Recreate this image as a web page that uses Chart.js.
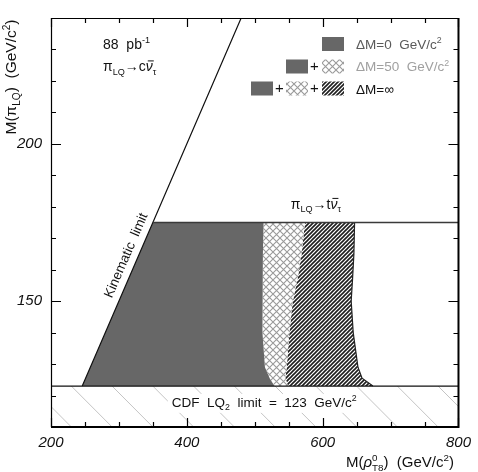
<!DOCTYPE html>
<html>
<head>
<meta charset="utf-8">
<script src="https://cdn.jsdelivr.net/npm/chart.js@4.4.0/dist/chart.umd.min.js"></script>
<style>
  html, body { margin: 0; padding: 0; background: #fff; }
</style>
</head>
<body>
<canvas id="chart" width="478" height="472"></canvas>
<script>
// axes (GeV/c^2)
const xRange = [200, 800]
const yRange = [110, 240]
const xTickValues = [200, 250, 300, 350, 400, 450, 500, 550, 600, 650, 700, 750, 800]
const yTickValues = [110, 120, 130, 140, 150, 160, 170, 180, 190, 200, 210, 220, 230, 240]
const xLabelTicks = [200, 400, 600, 800]
const yLabelTicks = [150, 200]

// CDF LQ2 limit and the t nu threshold
const lq2Limit = 123
const topThreshold = 175

// kinematic limit, M(rho) = 2 M(pi)
const kinematicM = [246, 350, 480]
const kinematicPi = [123, 175, 240]

// right edges of the excluded regions, read at these M(pi_LQ) values
const edgePi = [175, 165, 157, 150, 140, 129, 125.5, 123]
const edgeDM0 = [513, 512, 511, 511, 512, 515, 522, 529]
const edgeDM50 = [574, 569, 563, 556, 551, 547, 545, 549]
const edgeDMinf = [647, 646, 644, 642, 645, 652, 658, 674]

// grey hatch lines of the LQ2 band (M at the top of the band, run to the bottom)
const bandHatchM = [170, 230, 290, 350, 410, 470, 530, 590, 650, 710, 770]
const bandHatchRun = 60

const FONT = '"Liberation Sans", Arial, Helvetica, sans-serif'
const darkGrey = '#676767'

function pts(xs, ys) {
  return xs.map((x, i) => ({ x: x, y: ys[i] }))
}

function makePattern(size, draw) {
  const c = document.createElement('canvas')
  c.width = size
  c.height = size
  const g = c.getContext('2d')
  g.fillStyle = '#fff'
  g.fillRect(0, 0, size, size)
  draw(g, size)
  return g.createPattern(c, 'repeat')
}

const crossPattern = makePattern(7, (g, n) => {
  g.strokeStyle = '#9a9a9a'
  g.lineWidth = 1.1
  g.beginPath()
  g.moveTo(0, 0); g.lineTo(n, n)
  g.moveTo(n, 0); g.lineTo(0, n)
  g.stroke()
})

const hatchPattern = makePattern(4, (g, n) => {
  g.strokeStyle = '#1e1e1e'
  g.lineWidth = 1.6
  g.beginPath()
  g.moveTo(-1, n + 1); g.lineTo(n + 1, -1)
  g.moveTo(-1, 1); g.lineTo(1, -1)
  g.moveTo(n - 1, n + 1); g.lineTo(n + 1, n - 1)
  g.stroke()
})

// polygons of the three regions
const dm0Shape = pts(kinematicM.slice(0, 2), kinematicPi.slice(0, 2))
  .concat(pts(edgeDM0, edgePi))
const dm50Shape = pts(edgeDM0, edgePi)
  .concat(pts(edgeDM50, edgePi).reverse())
const dmInfShape = pts(edgeDM50, edgePi)
  .concat(pts(edgeDMinf, edgePi).reverse())

const bandHatch = []
bandHatchM.forEach(m => {
  bandHatch.push({ x: m, y: lq2Limit })
  bandHatch.push({ x: m + bandHatchRun, y: yRange[0] })
  bandHatch.push({ x: m + bandHatchRun, y: null })
})

// text with sub/superscripts: [text, kind]
function fontFor(kind, size) {
  const small = kind === 'sub' || kind === 'sup' || kind === 'supsub'
  const s = small ? size * 0.65 : size
  const style = (kind === 'i' || kind === 'bar') ? 'italic ' : ''
  return style + s.toFixed(1) + 'px ' + FONT
}

function partWidth(ctx, p, size) {
  ctx.font = fontFor(p[1], size)
  if (p[1] === 'supsub') {
    return Math.max(...p[0].split('|').map(t => ctx.measureText(t).width))
  }
  return ctx.measureText(p[0]).width
}

function drawRich(ctx, parts, x, y, size, align) {
  const widths = parts.map(p => partWidth(ctx, p, size))
  const total = widths.reduce((a, b) => a + b, 0)
  let cx = align === 'center' ? x - total / 2 : (align === 'right' ? x - total : x)
  ctx.textAlign = 'left'
  ctx.textBaseline = 'alphabetic'
  parts.forEach((p, i) => {
    const k = p[1]
    ctx.font = fontFor(k, size)
    if (k === 'sub') {
      ctx.fillText(p[0], cx, y + size * 0.25)
    } else if (k === 'sup') {
      ctx.fillText(p[0], cx, y - size * 0.4)
    } else if (k === 'supsub') {
      const t = p[0].split('|')
      ctx.fillText(t[0], cx, y - size * 0.4)
      ctx.fillText(t[1], cx, y + size * 0.25)
    } else {
      ctx.fillText(p[0], cx, y)
      if (k === 'bar') {
        ctx.save()
        ctx.strokeStyle = ctx.fillStyle
        ctx.lineWidth = 1
        ctx.beginPath()
        ctx.moveTo(cx + 2, y - size * 0.72)
        ctx.lineTo(cx + widths[i] + 1, y - size * 0.72)
        ctx.stroke()
        ctx.restore()
      }
    }
    cx += widths[i]
  })
  return total
}

function box(ctx, x, y, w, h, fill) {
  ctx.fillStyle = fill
  ctx.fillRect(x, y, w, h)
}

// inward tick marks and the frame
function drawFrame(chart) {
  const ctx = chart.ctx
  const xs = chart.scales.x
  const ys = chart.scales.y
  const a = chart.chartArea
  ctx.save()
  ctx.strokeStyle = '#000'
  ctx.lineWidth = 1.2
  ctx.beginPath()
  xTickValues.forEach(v => {
    const px = Math.round(xs.getPixelForValue(v)) + 0.5
    const len = xLabelTicks.includes(v) ? 9 : 5
    ctx.moveTo(px, a.bottom); ctx.lineTo(px, a.bottom - len)
    ctx.moveTo(px, a.top); ctx.lineTo(px, a.top + len)
  })
  yTickValues.forEach(v => {
    const py = Math.round(ys.getPixelForValue(v)) + 0.5
    const len = yLabelTicks.includes(v) ? 10 : 5
    ctx.moveTo(a.left, py); ctx.lineTo(a.left + len, py)
    ctx.moveTo(a.right, py); ctx.lineTo(a.right - len, py)
  })
  ctx.stroke()
  ctx.lineWidth = 1.2
  ctx.beginPath()
  ctx.moveTo(a.left + 0.5, a.bottom)
  ctx.lineTo(a.left + 0.5, a.top + 0.5)
  ctx.lineTo(a.right, a.top + 0.5)
  ctx.stroke()
  ctx.lineWidth = 2
  ctx.beginPath()
  ctx.moveTo(a.right, a.top)
  ctx.lineTo(a.right, a.bottom)
  ctx.lineTo(a.left, a.bottom)
  ctx.stroke()
  ctx.restore()
}

const decorations = {
  id: 'decorations',
  afterDatasetsDraw(chart) {
    const ctx = chart.ctx
    const xs = chart.scales.x
    const ys = chart.scales.y
    const area = chart.chartArea
    ctx.save()

    // CDF LQ2 label over the band
    const cdfParts = [['CDF  LQ', ''], ['2', 'sub'], ['  limit  =  123  GeV/c', ''], ['2', 'sup']]
    const cx = xs.getPixelForValue(514)
    const cy = ys.getPixelForValue(116.4)
    const w = cdfParts.map(p => partWidth(ctx, p, 13.5)).reduce((a, b) => a + b, 0)
    ctx.fillStyle = '#fff'
    ctx.fillRect(cx - w / 2 - 4, cy - 13, w + 8, 19)
    ctx.fillStyle = '#111'
    drawRich(ctx, cdfParts, cx, cy, 13.5, 'center')

    // kinematic limit label, along the line
    const p0 = { x: xs.getPixelForValue(kinematicM[0]), y: ys.getPixelForValue(kinematicPi[0]) }
    const p1 = { x: xs.getPixelForValue(kinematicM[2]), y: ys.getPixelForValue(kinematicPi[2]) }
    const ang = Math.atan2(p1.y - p0.y, p1.x - p0.x)
    ctx.save()
    ctx.translate(xs.getPixelForValue(311), ys.getPixelForValue(164.5))
    ctx.rotate(ang)
    ctx.fillStyle = '#111'
    ctx.font = '13.5px ' + FONT
    ctx.textAlign = 'center'
    ctx.textBaseline = 'middle'
    ctx.fillText('Kinematic  limit', 0, 0)
    ctx.restore()

    // decay channel labels
    ctx.fillStyle = '#111'
    drawRich(ctx, [['88  pb', ''], ['-1', 'sup']], area.left + 52, 49, 14, 'left')
    drawRich(ctx, [['π', ''], ['LQ', 'sub'], ['→c', ''], ['ν', 'bar'], ['τ', 'sub']],
      area.left + 52, 71, 14, 'left')
    drawRich(ctx, [['π', ''], ['LQ', 'sub'], ['→t', ''], ['ν', 'bar'], ['τ', 'sub']],
      xs.getPixelForValue(553), ys.getPixelForValue(topThreshold) - 14, 14, 'left')

    // legend
    const bw = 22, bh = 14
    const col = [251, 286, 322]
    const rows = [37, 59.5, 81.5]
    box(ctx, col[2], rows[0], bw, bh, darkGrey)
    box(ctx, col[1], rows[1], bw, bh, darkGrey)
    box(ctx, col[2], rows[1], bw, bh, crossPattern)
    box(ctx, col[0], rows[2], bw, bh, darkGrey)
    box(ctx, col[1], rows[2], bw, bh, crossPattern)
    box(ctx, col[2], rows[2], bw, bh, hatchPattern)
    ctx.fillStyle = '#111'
    ctx.font = '15px ' + FONT
    ctx.textAlign = 'center'
    ctx.textBaseline = 'middle'
    ctx.fillText('+', col[1] + bw + 6.5, rows[1] + bh / 2)
    ctx.fillText('+', col[0] + bw + 6.5, rows[2] + bh / 2)
    ctx.fillText('+', col[1] + bw + 6.5, rows[2] + bh / 2)
    ctx.fillStyle = '#5a5a5a'
    drawRich(ctx, [['ΔM=0  GeV/c', ''], ['2', 'sup']], 356, 48.5, 13.5, 'left')
    ctx.fillStyle = '#a0a0a0'
    drawRich(ctx, [['ΔM=50  GeV/c', ''], ['2', 'sup']], 356, 71, 13.5, 'left')
    ctx.fillStyle = '#111'
    drawRich(ctx, [['ΔM=∞', '']], 356, 93.5, 13.5, 'left')

    // axis titles
    ctx.fillStyle = '#111'
    drawRich(ctx, [['M(', ''], ['ρ', 'i'], ['0|T8', 'supsub'], [')  (GeV/c', ''], ['2', 'sup'], [')', '']],
      400, 467, 15, 'center')
    ctx.save()
    ctx.translate(16, 77)
    ctx.rotate(-Math.PI / 2)
    drawRich(ctx, [['M(', ''], ['π', ''], ['LQ', 'sub'], [')  (GeV/c', ''], ['2', 'sup'], [')', '']],
      0, 0, 15.5, 'center')
    ctx.restore()

    ctx.restore()
    drawFrame(chart)
  }
}

const lineDefaults = { showLine: true, pointRadius: 0, pointHoverRadius: 0, tension: 0 }

new Chart(document.getElementById('chart'), {
  type: 'scatter',
  data: {
    datasets: [
      Object.assign({}, lineDefaults, {
        label: 'LQ2 limit', order: 1,
        data: [{ x: xRange[0], y: lq2Limit }, { x: xRange[1], y: lq2Limit }],
        borderColor: '#111', borderWidth: 1.3
      }),
      Object.assign({}, lineDefaults, {
        label: 't nu threshold', order: 2,
        data: [{ x: kinematicM[1], y: topThreshold }, { x: xRange[1], y: topThreshold }],
        borderColor: '#3a3a3a', borderWidth: 1.5
      }),
      Object.assign({}, lineDefaults, {
        label: 'Kinematic limit', order: 3,
        data: pts(kinematicM, kinematicPi),
        borderColor: '#111', borderWidth: 1.2
      }),
      Object.assign({}, lineDefaults, {
        label: 'dM=inf edge', order: 4,
        data: pts(edgeDMinf, edgePi),
        borderColor: '#222', borderWidth: 1.2
      }),
      Object.assign({}, lineDefaults, {
        label: 'dM=0', order: 5,
        data: dm0Shape, fill: 'shape',
        backgroundColor: darkGrey, borderColor: darkGrey, borderWidth: 0
      }),
      Object.assign({}, lineDefaults, {
        label: 'dM=50', order: 6,
        data: dm50Shape, fill: 'shape',
        backgroundColor: crossPattern, borderColor: 'rgba(0,0,0,0)', borderWidth: 0
      }),
      Object.assign({}, lineDefaults, {
        label: 'dM=inf', order: 7,
        data: dmInfShape, fill: 'shape',
        backgroundColor: hatchPattern, borderColor: 'rgba(0,0,0,0)', borderWidth: 0
      }),
      Object.assign({}, lineDefaults, {
        label: 'LQ2 band', order: 8,
        data: bandHatch, spanGaps: false,
        borderColor: '#c4c4c4', borderWidth: 1
      })
    ]
  },
  options: {
    animation: false,
    responsive: false,
    events: [],
    layout: { padding: { top: 14, right: 13, left: 0, bottom: 0 } },
    plugins: { legend: { display: false }, tooltip: { enabled: false } },
    scales: {
      x: {
        type: 'linear', min: xRange[0], max: xRange[1],
        border: { display: false },
        grid: { display: false, drawTicks: false },
        afterBuildTicks: s => { s.ticks = xTickValues.map(v => ({ value: v })) },
        ticks: {
          autoSkip: false, maxRotation: 0, padding: 7,
          color: '#111', font: { family: FONT, size: 15, style: 'italic' },
          callback: v => xLabelTicks.includes(v) ? String(v) : ''
        },
        afterFit: s => { s.height = 45 }
      },
      y: {
        type: 'linear', min: yRange[0], max: yRange[1],
        border: { display: false },
        grid: { display: false, drawTicks: false },
        afterBuildTicks: s => { s.ticks = yTickValues.map(v => ({ value: v })) },
        ticks: {
          autoSkip: false, padding: 9,
          color: '#111', font: { family: FONT, size: 15, style: 'italic' },
          callback: v => yLabelTicks.includes(v) ? String(v) : ''
        },
        afterFit: s => { s.width = 51 }
      }
    }
  },
  plugins: [decorations]
})
</script>
</body>
</html>
